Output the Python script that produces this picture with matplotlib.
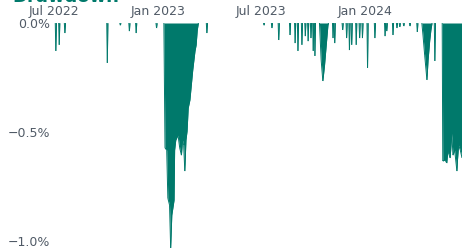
import numpy as np
import pandas as pd
import matplotlib
matplotlib.use("Agg")
import matplotlib.pyplot as plt
import matplotlib.dates as mdates
from matplotlib.collections import LineCollection
from matplotlib.ticker import FuncFormatter, FixedLocator

# one-day dips (date, drawdown in %)
spike_dates = ["2022-07-04", "2022-07-10", "2022-07-20", "2022-10-03", "2022-10-26",
               "2022-11-11", "2022-11-23", "2022-12-29", "2023-03-28",
               "2023-07-07", "2023-07-21", "2023-08-02", "2023-08-22", "2023-08-31",
               "2023-09-05", "2023-09-12", "2023-09-18", "2023-09-23", "2023-09-28",
               "2023-10-02", "2023-10-05", "2023-11-06", "2023-11-09", "2023-11-23",
               "2023-11-30", "2023-12-05", "2023-12-09", "2023-12-17", "2023-12-23",
               "2023-12-28", "2024-01-06", "2024-01-19", "2024-02-06", "2024-02-09",
               "2024-02-20", "2024-02-27", "2024-03-03", "2024-03-10", "2024-03-21",
               "2024-04-03", "2024-05-04"]
spike_depth = [-0.128, -0.10, -0.046, -0.183, -0.01,
               -0.037, -0.046, -0.023, -0.046,
               -0.01, -0.023, -0.078, -0.055, -0.092,
               -0.128, -0.10, -0.06, -0.083, -0.069,
               -0.128, -0.151, -0.069, -0.092, -0.032,
               -0.069, -0.124, -0.10, -0.10, -0.069,
               -0.069, -0.206, -0.069, -0.06, -0.037,
               -0.055, -0.023, -0.018, -0.014, -0.014,
               -0.041, -0.174]

# longer drawdown episodes
ep1_dates = ["2023-01-11", "2023-01-13", "2023-01-16", "2023-01-18", "2023-01-21",
             "2023-01-23", "2023-01-25", "2023-01-29", "2023-01-30", "2023-02-01",
             "2023-02-05", "2023-02-08", "2023-02-11", "2023-02-13", "2023-02-15",
             "2023-02-17", "2023-02-19", "2023-02-21", "2023-02-23", "2023-02-26",
             "2023-02-28", "2023-03-03", "2023-03-07", "2023-03-09", "2023-03-11",
             "2023-03-13"]
ep1_depth = [0.0, -0.573, -0.583, -0.803, -0.835,
             -1.032, -0.881, -0.812, -0.583, -0.537,
             -0.514, -0.573, -0.606, -0.537, -0.56,
             -0.679, -0.537, -0.495, -0.39, -0.353,
             -0.298, -0.216, -0.128, -0.101, -0.032,
             0.0]

ep2_dates = ["2023-10-13", "2023-10-14", "2023-10-16", "2023-10-19", "2023-10-22",
             "2023-10-25", "2023-10-28", "2023-10-29"]
ep2_depth = [0.0, -0.055, -0.17, -0.266, -0.193, -0.101, -0.01, 0.0]

ep3_dates = ["2024-04-11", "2024-04-13", "2024-04-16", "2024-04-20", "2024-04-22",
             "2024-04-25", "2024-04-27", "2024-04-29"]
ep3_depth = [0.0, -0.055, -0.147, -0.261, -0.17, -0.078, -0.032, 0.0]

ep4_dates = ["2024-05-17", "2024-05-18", "2024-05-22", "2024-05-25", "2024-05-27",
             "2024-05-31", "2024-06-01", "2024-06-03", "2024-06-05", "2024-06-08",
             "2024-06-12", "2024-06-13", "2024-06-15", "2024-06-18", "2024-06-21"]
ep4_depth = [0.0, -0.633, -0.628, -0.642, -0.587,
             -0.619, -0.583, -0.505, -0.606, -0.583,
             -0.679, -0.628, -0.56, -0.583, -0.619]

x_ticks = ["2022-07-01", "2023-01-01", "2023-07-01", "2024-01-01"]
y_ticks = [0.0, -0.5, -1.0]

color = "#00796b"

# assemble the series
pts = {}
for d, v in zip(spike_dates, spike_depth):
    t = pd.Timestamp(d)
    pts.setdefault(t - pd.Timedelta(days=1), 0.0)
    pts.setdefault(t + pd.Timedelta(days=1), 0.0)
    pts[t] = v
for ds, vs in [(ep1_dates, ep1_depth), (ep2_dates, ep2_depth),
               (ep3_dates, ep3_depth), (ep4_dates, ep4_depth)]:
    for d, v in zip(ds, vs):
        pts[pd.Timestamp(d)] = v
pts.setdefault(pd.Timestamp("2022-06-29"), 0.0)
s = pd.Series(pts).sort_index()

fig = plt.figure(figsize=(4.62, 2.48), dpi=100)
ax = fig.add_axes([53 / 462, 0, 1 - 53 / 462, 225 / 248])
ax.fill_between(s.index, s.values, 0, color=color, linewidth=0)

# outline of the dips only (skip flat stretches at zero) so thin spikes show
xn = mdates.date2num(s.index)
yv = s.values
segs = [[(xn[i], yv[i]), (xn[i + 1], yv[i + 1])]
        for i in range(len(xn) - 1) if not (yv[i] == 0 and yv[i + 1] == 0)]
ax.add_collection(LineCollection(segs, colors=color, linewidths=0.7))

ax.set_xlim(pd.Timestamp("2022-06-29"), pd.Timestamp("2024-06-21"))
ax.set_ylim(-1.032, 0)

ax.xaxis.tick_top()
ax.xaxis.set_major_locator(FixedLocator(mdates.date2num(pd.to_datetime(x_ticks))))
ax.xaxis.set_major_formatter(mdates.DateFormatter("%b %Y"))
ax.yaxis.set_major_locator(FixedLocator(y_ticks))
ax.yaxis.set_major_formatter(FuncFormatter(lambda v, p: f"{v:.1f}%".replace("-", "\u2212")))
ax.tick_params(axis="both", length=0, labelsize=9, labelcolor="#505a66")
ax.tick_params(axis="x", pad=3.5)
ax.tick_params(axis="y", pad=2)
for sp in ax.spines.values():
    sp.set_visible(False)
ax.patch.set_alpha(0)

fig.text(12 / 462, 1 - 1.8 / 248, "Drawdown", color=color, fontsize=13,
         fontweight="bold", va="baseline", ha="left")

fig.savefig("out.png", dpi=100)
